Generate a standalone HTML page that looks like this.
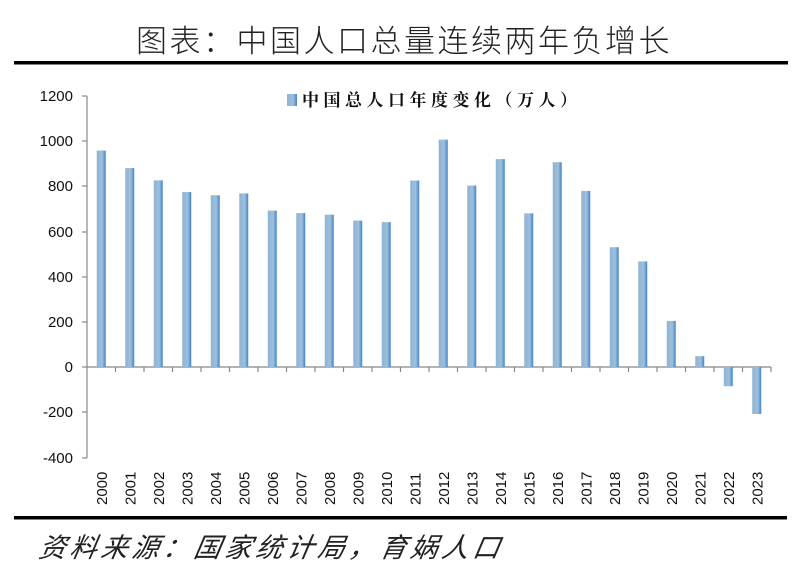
<!DOCTYPE html>
<html><head><meta charset="utf-8"><style>
html,body{margin:0;padding:0;background:#fff;}
svg{display:block;}
</style></head><body>
<svg width="800" height="571" viewBox="0 0 800 571" xmlns="http://www.w3.org/2000/svg">
<defs>
<linearGradient id="g" x1="0" x2="1" y1="0" y2="0">
<stop offset="0" stop-color="#8fb3d3"/><stop offset="0.6" stop-color="#9ebfdc"/><stop offset="1" stop-color="#3f86c6"/>
</linearGradient>
</defs>
<text x="404" y="52" text-anchor="middle" font-family="Noto Sans CJK SC, sans-serif" font-weight="300" font-size="31" letter-spacing="2.5" fill="#222">图表：中国人口总量连续两年负增长</text>
<rect x="14" y="61" width="774" height="3.5" fill="#000"/>
<rect x="287" y="94" width="10" height="12" fill="url(#g)"/>
<text x="302" y="106" font-family="Noto Serif CJK SC, Noto Sans CJK SC, serif" font-weight="bold" font-size="17" letter-spacing="4.5" fill="#111">中国总人口年度变化（万人）</text>
<g font-family="Liberation Sans, sans-serif" font-size="15" fill="#111" text-anchor="end">
<text x="73" y="101">1200</text><text x="73" y="146">1000</text><text x="73" y="191">800</text><text x="73" y="237">600</text><text x="73" y="282">400</text><text x="73" y="327">200</text><text x="73" y="372">0</text><text x="73" y="417">-200</text><text x="73" y="463">-400</text>
</g>
<g stroke="#888" stroke-width="1.2">
<line x1="87" y1="96" x2="87" y2="458"/>
<line x1="82" y1="96" x2="87" y2="96"/><line x1="82" y1="141" x2="87" y2="141"/><line x1="82" y1="186" x2="87" y2="186"/><line x1="82" y1="232" x2="87" y2="232"/><line x1="82" y1="277" x2="87" y2="277"/><line x1="82" y1="322" x2="87" y2="322"/><line x1="82" y1="367" x2="87" y2="367"/><line x1="82" y1="412" x2="87" y2="412"/><line x1="82" y1="458" x2="87" y2="458"/>
<line x1="87" y1="367" x2="771" y2="367"/>
</g>
<g id="bars"></g>
<g id="ticks" stroke="#888" stroke-width="1.2"></g>
<g id="labels" font-family="Liberation Sans, sans-serif" font-size="15" fill="#111"></g>
<rect x="14" y="516" width="773" height="3.5" fill="#000"/>
<text x="38" y="557" font-family="Noto Sans CJK SC, sans-serif" font-style="italic" font-size="27" letter-spacing="4" fill="#222" transform="skewX(-10) translate(98,0)">资料来源：国家统计局，育娲人口</text>
<script>
var v=[958,880,826,774,760,768,692,681,674,648,641,825,1006,803,920,680,906,779,530,467,204,48,-85,-208];
var ns="http://www.w3.org/2000/svg",b=document.getElementById("bars"),t=document.getElementById("ticks"),l=document.getElementById("labels");
var w=28.5,x0=87,y0=367,s=45.2/200;
for(var i=0;i<24;i++){var cx=x0+w*(i+0.5);var h=Math.abs(v[i])*s;var r=document.createElementNS(ns,"rect");
r.setAttribute("x",cx-4.5);r.setAttribute("width",9);r.setAttribute("y",v[i]>=0?y0-h:y0);r.setAttribute("height",h);r.setAttribute("fill","url(#g)");b.appendChild(r);
var k=document.createElementNS(ns,"line");var tx=x0+w*(i+1);k.setAttribute("x1",tx);k.setAttribute("x2",tx);k.setAttribute("y1",367);k.setAttribute("y2",372);t.appendChild(k);
var tt=document.createElementNS(ns,"text");tt.setAttribute("transform","translate("+(cx+5.5)+",505) rotate(-90)");tt.textContent=2000+i;l.appendChild(tt);}
</script>
</svg>
</body></html>
